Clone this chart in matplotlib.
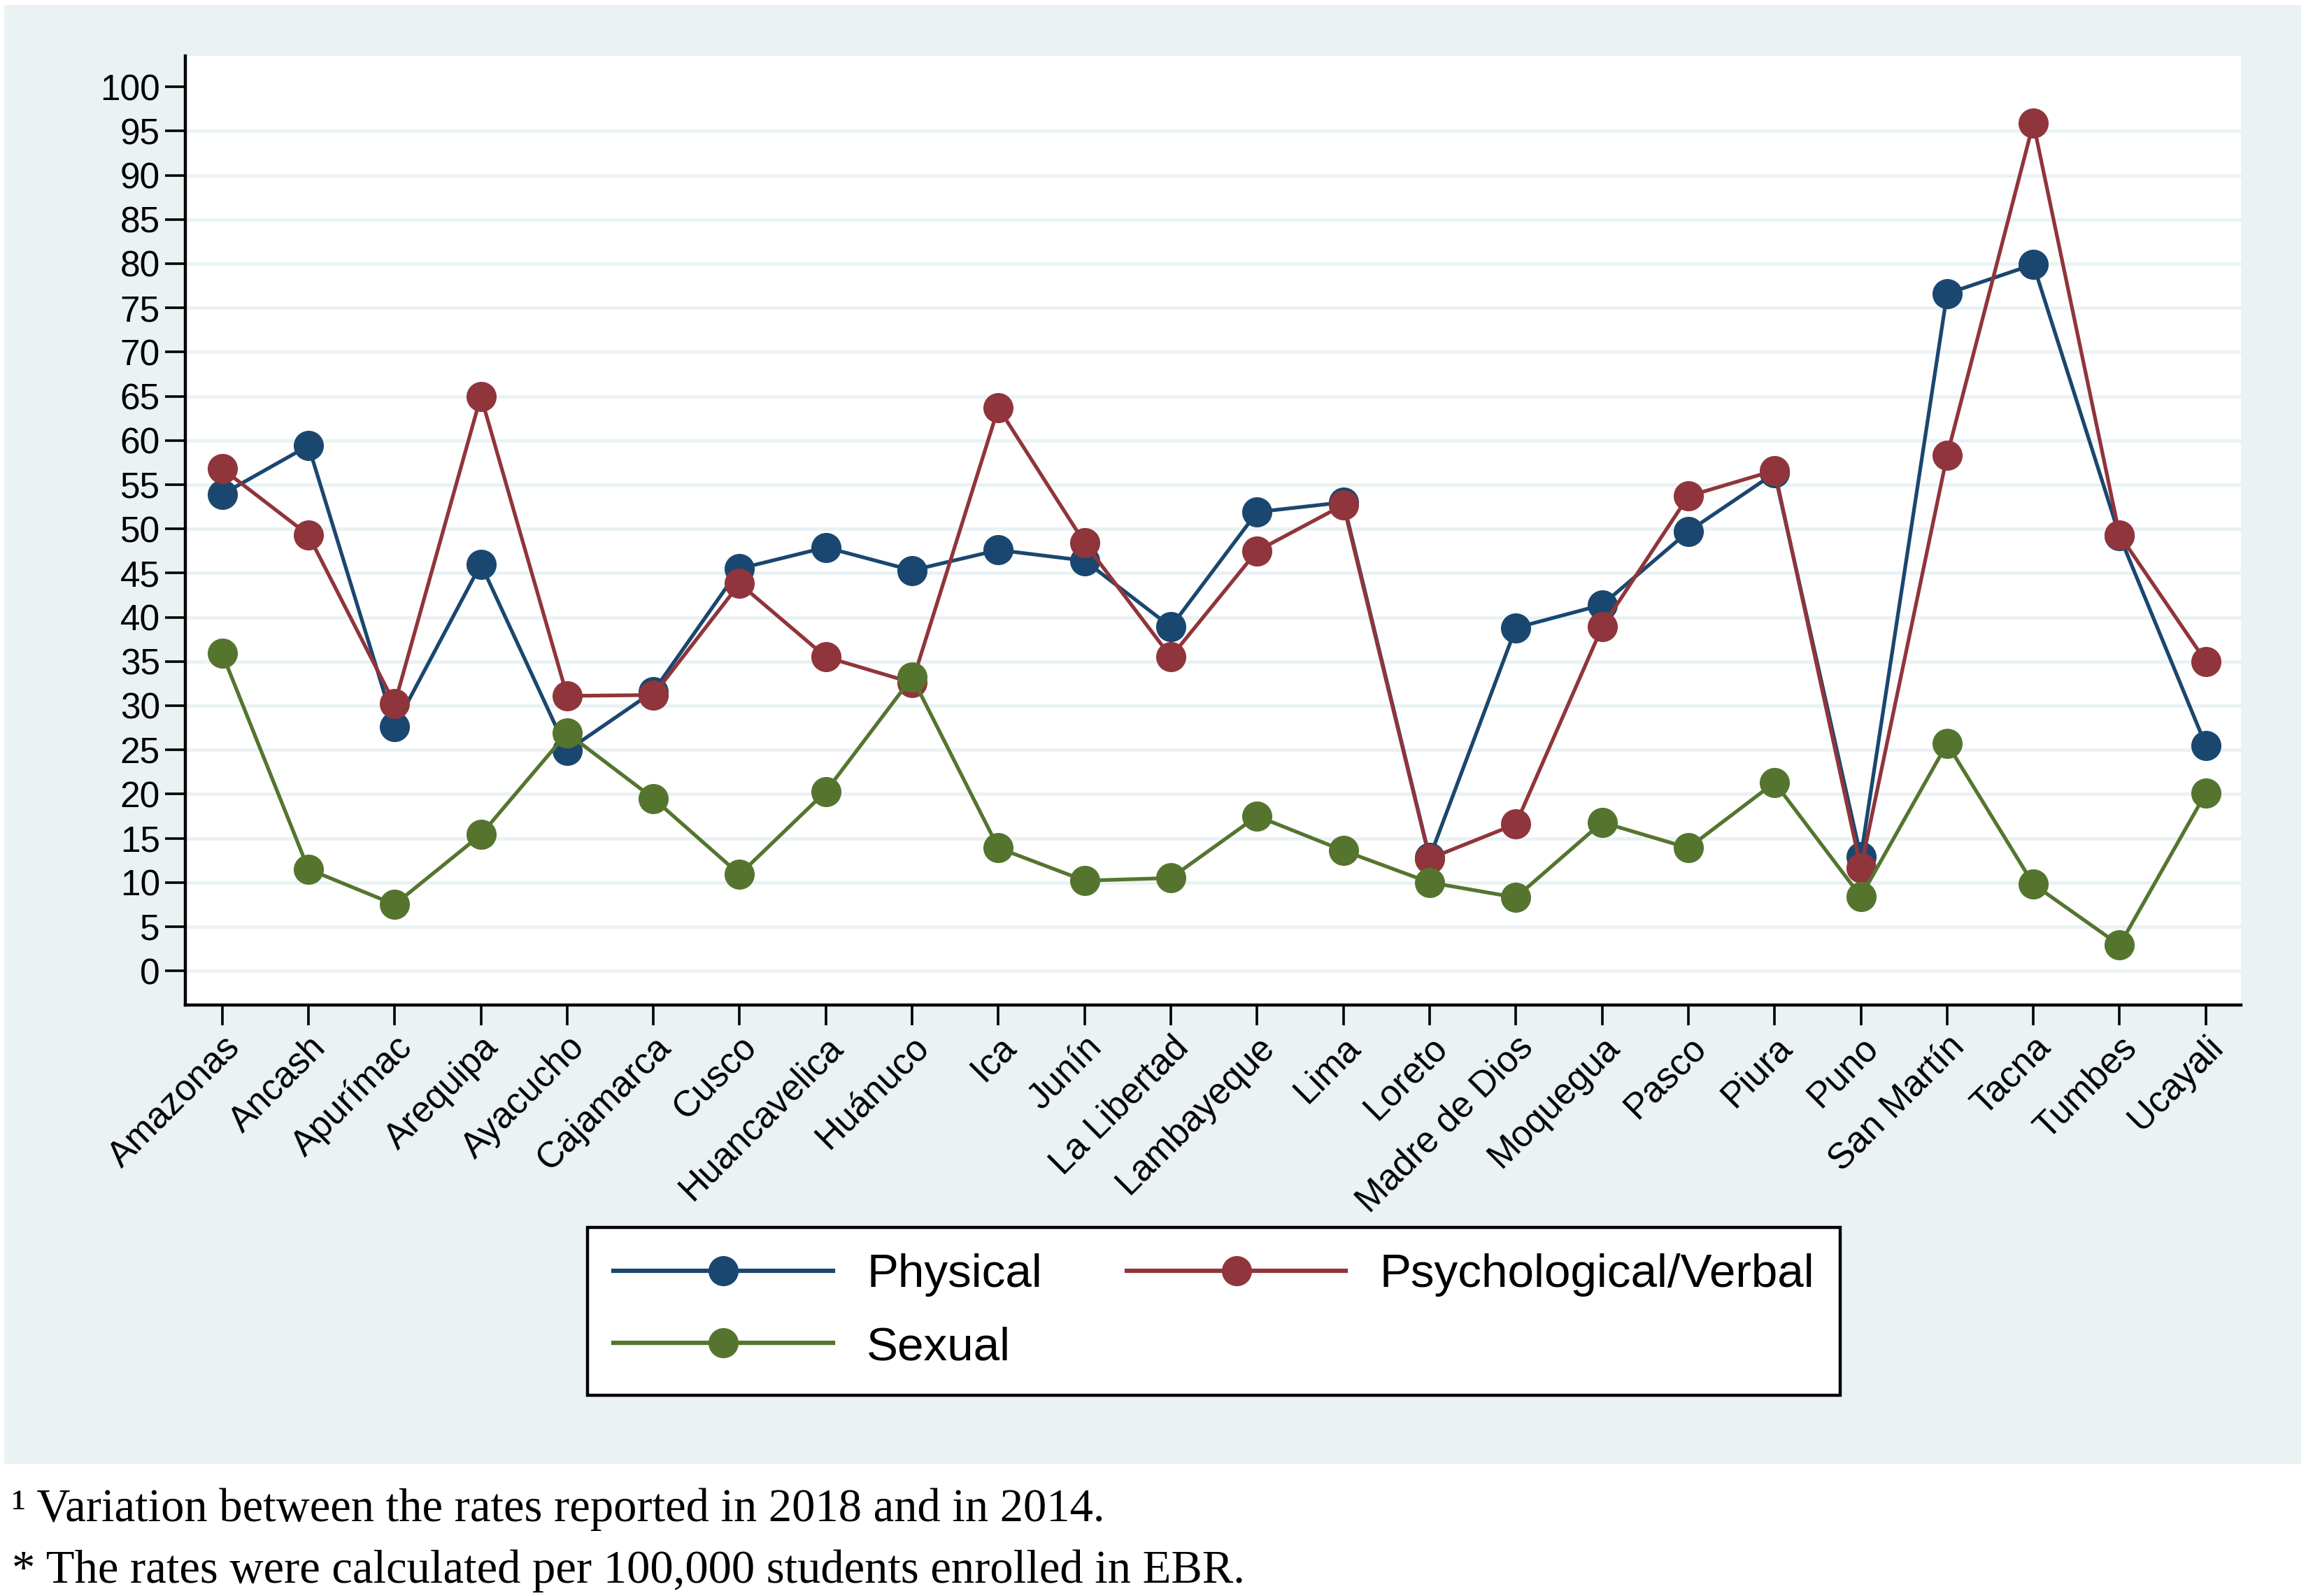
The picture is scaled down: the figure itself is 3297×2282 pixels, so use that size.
import matplotlib.pyplot as plt
from matplotlib.patches import Rectangle

regions = ["Amazonas", "Ancash", "Apurímac", "Arequipa", "Ayacucho", "Cajamarca",
           "Cusco", "Huancavelica", "Huánuco", "Ica", "Junín", "La Libertad",
           "Lambayeque", "Lima", "Loreto", "Madre de Dios", "Moquegua", "Pasco",
           "Piura", "Puno", "San Martín", "Tacna", "Tumbes", "Ucayali"]

physical = [53.9, 59.4, 27.6, 46.0, 24.9, 31.6, 45.5, 47.9, 45.3, 47.6, 46.4, 38.9,
            51.9, 53.0, 12.8, 38.8, 41.4, 49.7, 56.3, 12.9, 76.6, 79.9, 49.2, 25.5]
psychological = [56.8, 49.3, 30.2, 65.0, 31.1, 31.2, 43.8, 35.5, 32.6, 63.7, 48.4, 35.5,
                 47.5, 52.7, 12.7, 16.6, 38.9, 53.7, 56.6, 11.6, 58.3, 95.9, 49.3, 35.0]
sexual = [35.9, 11.5, 7.5, 15.4, 26.9, 19.5, 10.9, 20.3, 33.2, 13.9, 10.2, 10.5,
          17.5, 13.6, 10.0, 8.3, 16.8, 13.9, 21.3, 8.4, 25.7, 9.8, 2.9, 20.1]

series_names = ["Physical", "Psychological/Verbal", "Sexual"]
colors = ["#1A476F", "#90353B", "#55752F"]
bg = "#EAF2F3"

footnote1 = "¹ Variation between the rates reported in 2018 and in 2014."
footnote2 = "* The rates were calculated per 100,000 students enrolled in EBR."

plt.rcParams['font.family'] = ['Liberation Sans', 'DejaVu Sans']

fig = plt.figure(figsize=(32.97, 22.82), dpi=100)
fig.patch.set_facecolor('white')

# light bluish-gray graph region behind everything
fig.patches.append(Rectangle((0.0019, 0.083), 0.996, 0.914, transform=fig.transFigure,
                             facecolor=bg, edgecolor='none', zorder=-10))

ax = fig.add_axes([0.0804, 0.3705, 0.8915, 0.5945])
ax.set_zorder(1)
ax.set_facecolor('white')

x = list(range(len(regions)))
lines = []
for vals, name, c in zip([physical, psychological, sexual], series_names, colors):
    ln, = ax.plot(x, vals, color=c, lw=3.8, marker='o', markersize=30,
                  markerfacecolor=c, markeredgecolor=c, label=name, zorder=3)
    lines.append(ln)

ax.set_xlim(-0.426, 23.41)
ax.set_ylim(-3.83, 103.5)
ax.set_yticks(range(0, 101, 5))
ax.set_xticks(x)
ax.set_xticklabels(regions, rotation=45, ha='right', rotation_mode='anchor')

ax.tick_params(axis='both', direction='out', length=21, width=2.6, color='black',
               labelsize=37)
ax.tick_params(axis='x', pad=5)
ax.tick_params(axis='y', pad=5)

ax.grid(axis='y', color=bg, lw=3.5)
ax.get_ygridlines()[-1].set_visible(False)
ax.set_axisbelow(True)

for side in ['top', 'right']:
    ax.spines[side].set_visible(False)
for side in ['left', 'bottom']:
    ax.spines[side].set_linewidth(3.2)
    ax.spines[side].set_color('black')

# row-wise order: Physical, Psychological/Verbal on the first row, Sexual below
order = [0, 2, 1]
leg = fig.legend([lines[i] for i in order], [series_names[i] for i in order],
                 loc='center', bbox_to_anchor=(0.5265, 0.1783), ncol=2,
                 fontsize=48.5, frameon=True, fancybox=False, framealpha=1,
                 edgecolor='black', handlelength=4.65, handletextpad=0.72,
                 columnspacing=1.8, labelspacing=0.62, borderpad=0.55)
leg.get_frame().set_linewidth(3.2)
for h in leg.legend_handles:
    h.set_linewidth(4.5)

fig.text(0.0051, 0.047, footnote1, fontsize=48, family=['Liberation Serif', 'DejaVu Serif'],
         va='baseline', ha='left')
fig.text(0.0051, 0.0083, footnote2, fontsize=48, family=['Liberation Serif', 'DejaVu Serif'],
         va='baseline', ha='left')

fig.savefig('out.png', dpi=100)
